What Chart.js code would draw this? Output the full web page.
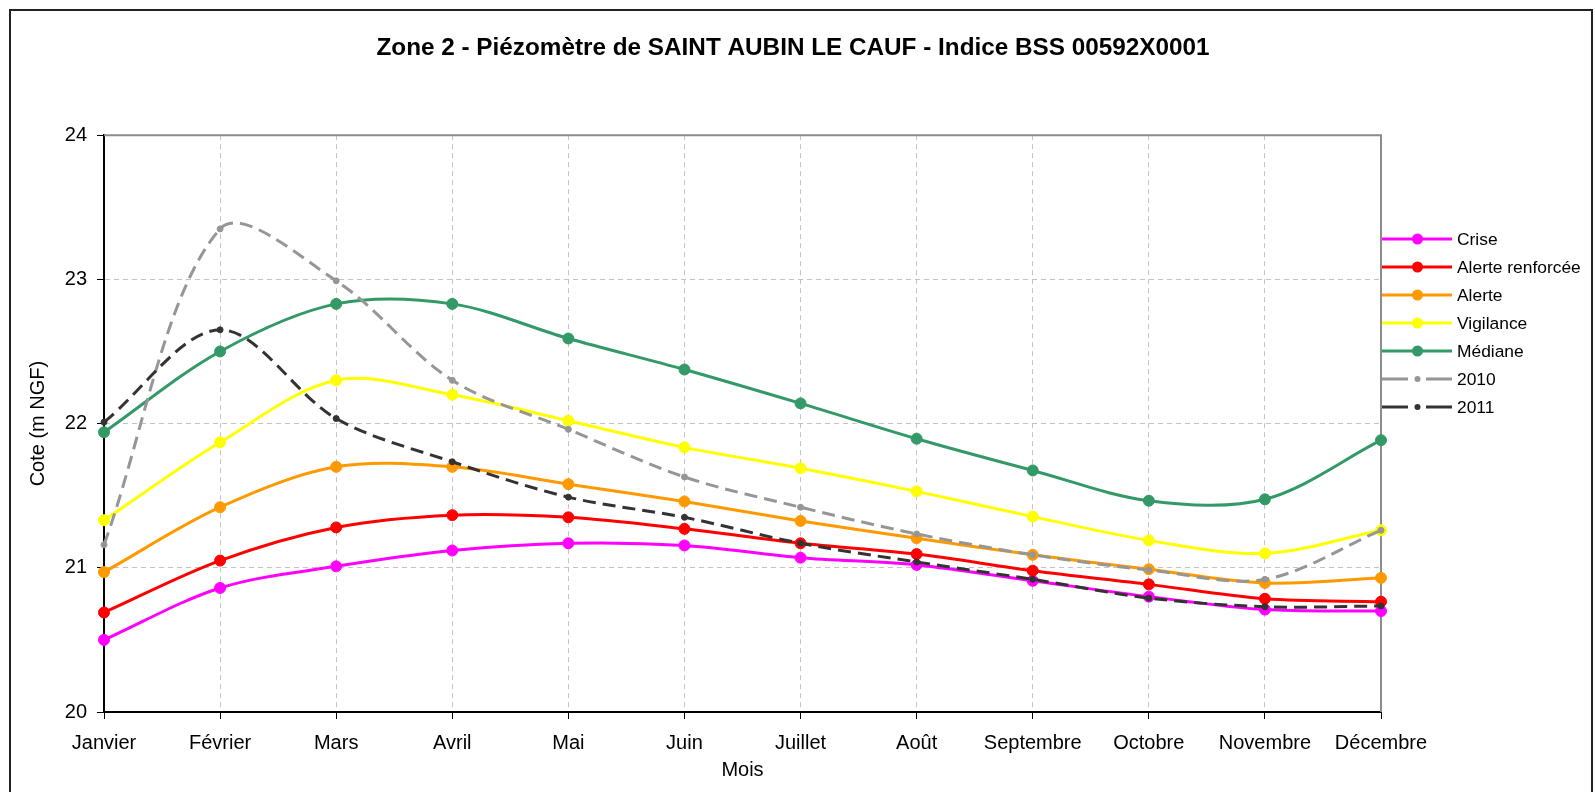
<!DOCTYPE html>
<html lang="fr">
<head>
  <meta charset="UTF-8" />
  <title>Zone 2 - Piézomètre de SAINT AUBIN LE CAUF</title>
  <script src="https://cdn.jsdelivr.net/npm/chart.js"></script>
  <style>
    html, body { margin: 0; padding: 0; background: #fff; }
    #chart { display: block; width: 1595px; height: 792px; }
  </style>
</head>
<body>
  <canvas id="chart" width="1595" height="792"></canvas>

  <script>
    // valeurs (m NGF)
    const mois = ["Janvier", "Février", "Mars", "Avril", "Mai", "Juin", "Juillet", "Août", "Septembre", "Octobre", "Novembre", "Décembre"];
    const crise = [20.50, 20.86, 21.01, 21.12, 21.17, 21.155, 21.07, 21.02, 20.91, 20.80, 20.71, 20.70];
    const alerteRenforcee = [20.69, 21.05, 21.28, 21.365, 21.35, 21.27, 21.17, 21.095, 20.98, 20.885, 20.785, 20.765];
    const alerte = [20.97, 21.42, 21.70, 21.70, 21.58, 21.46, 21.325, 21.205, 21.09, 20.99, 20.895, 20.93];
    const vigilance = [21.33, 21.87, 22.30, 22.20, 22.02, 21.835, 21.69, 21.53, 21.355, 21.19, 21.10, 21.26];
    const mediane = [21.94, 22.50, 22.83, 22.83, 22.59, 22.375, 22.14, 21.895, 21.675, 21.465, 21.475, 21.885];
    const annee2010 = [21.16, 23.35, 22.99, 22.30, 21.96, 21.63, 21.42, 21.235, 21.09, 20.985, 20.92, 21.26];
    const annee2011 = [22.01, 22.65, 22.035, 21.735, 21.49, 21.35, 21.17, 21.04, 20.92, 20.79, 20.73, 20.735];

    const police = "'Liberation Sans', Arial, sans-serif";
    Chart.defaults.font.family = police;
    Chart.defaults.color = "#000";

    function serie(label, data, couleur, ordre) {
      return {
        label, data, order: ordre,
        borderColor: couleur, backgroundColor: couleur,
        pointBackgroundColor: couleur, pointBorderColor: couleur,
        borderWidth: 3, pointRadius: 5.5, pointBorderWidth: 1,
        tension: 0.33, fill: false
      };
    }
    function serieTiret(label, data, couleur, ordre) {
      const s = serie(label, data, couleur, ordre);
      s.borderDash = [13, 7];
      s.pointRadius = 3;
      return s;
    }

    // cadre du graphique + légende dessinée à droite
    const cadre = {
      id: "cadre",
      beforeDatasetsDraw(chart) {
        const { ctx, chartArea: a } = chart;
        ctx.save();
        ctx.strokeStyle = "#8c8c8c";
        ctx.lineWidth = 2;
        ctx.beginPath();
        ctx.moveTo(a.left, a.top);
        ctx.lineTo(a.right, a.top);
        ctx.lineTo(a.right, a.bottom);
        ctx.stroke();
        ctx.restore();
      },
      afterDraw(chart) {
        const ctx = chart.ctx;
        ctx.save();
        ctx.strokeStyle = "#222";
        ctx.lineWidth = 2;
        ctx.strokeRect(10, 10, 1582, 900);

        chart.data.datasets.forEach((ds, i) => {
          const y = 239 + i * 28;
          ctx.strokeStyle = ds.borderColor;
          ctx.lineWidth = 3;
          ctx.setLineDash(ds.borderDash ? [26, 18] : []);
          ctx.beginPath();
          ctx.moveTo(1382, y);
          ctx.lineTo(1452, y);
          ctx.stroke();
          ctx.setLineDash([]);
          ctx.fillStyle = ds.pointBackgroundColor;
          ctx.beginPath();
          ctx.arc(1417.5, y, ds.pointRadius, 0, Math.PI * 2);
          ctx.fill();
          ctx.fillStyle = "#000";
          ctx.font = "17.4px " + police;
          ctx.textBaseline = "middle";
          ctx.textAlign = "left";
          ctx.fillText(ds.label, 1457, y + 1);
        });
        ctx.restore();
      }
    };

    new Chart(document.getElementById("chart"), {
      type: "line",
      data: {
        labels: mois,
        datasets: [
          serie("Crise", crise, "#ff00ff", 7),
          serie("Alerte renforcée", alerteRenforcee, "#ff0000", 6),
          serie("Alerte", alerte, "#ff9900", 5),
          serie("Vigilance", vigilance, "#ffff00", 4),
          serie("Médiane", mediane, "#339966", 3),
          serieTiret("2010", annee2010, "#969696", 2),
          serieTiret("2011", annee2011, "#333333", 1)
        ]
      },
      options: {
        responsive: false,
        animation: false,
        layout: { padding: { left: 22, right: 31, top: 0, bottom: 6 } },
        plugins: {
          legend: { display: false },
          tooltip: { enabled: false },
          title: {
            display: true,
            text: "Zone 2 - Piézomètre de SAINT AUBIN LE CAUF - Indice BSS 00592X0001",
            font: { size: 24.3, weight: "bold" },
            color: "#000",
            padding: { top: 34, bottom: 72 }
          }
        },
        scales: {
          x: {
            offset: false,
            afterFit: s => { s.height = 74; },
            grid: { color: "#c4c4c4", tickColor: "#000", tickLength: 7, tickBorderDash: [] },
            border: { color: "#000", width: 2, dash: [5, 4] },
            ticks: { font: { size: 20 }, padding: 12, maxRotation: 0, autoSkip: false },
            title: { display: true, text: "Mois", font: { size: 20 } }
          },
          y: {
            min: 20, max: 24,
            afterFit: s => { s.width = 82; },
            grid: { color: "#c4c4c4", tickColor: "#000", tickLength: 7, tickBorderDash: [] },
            border: { color: "#000", width: 2, dash: [5, 4] },
            ticks: { stepSize: 1, font: { size: 20 }, padding: 10 },
            title: { display: true, text: "Cote (m NGF)", font: { size: 20 } }
          },
          // espace vide à droite pour la légende
          legende: {
            type: "linear", position: "right", min: 0, max: 1,
            afterFit: s => { s.width = 183; },
            grid: { display: false },
            border: { display: false },
            ticks: { display: false }
          }
        }
      },
      plugins: [cadre]
    });
  </script>
</body>
</html>
